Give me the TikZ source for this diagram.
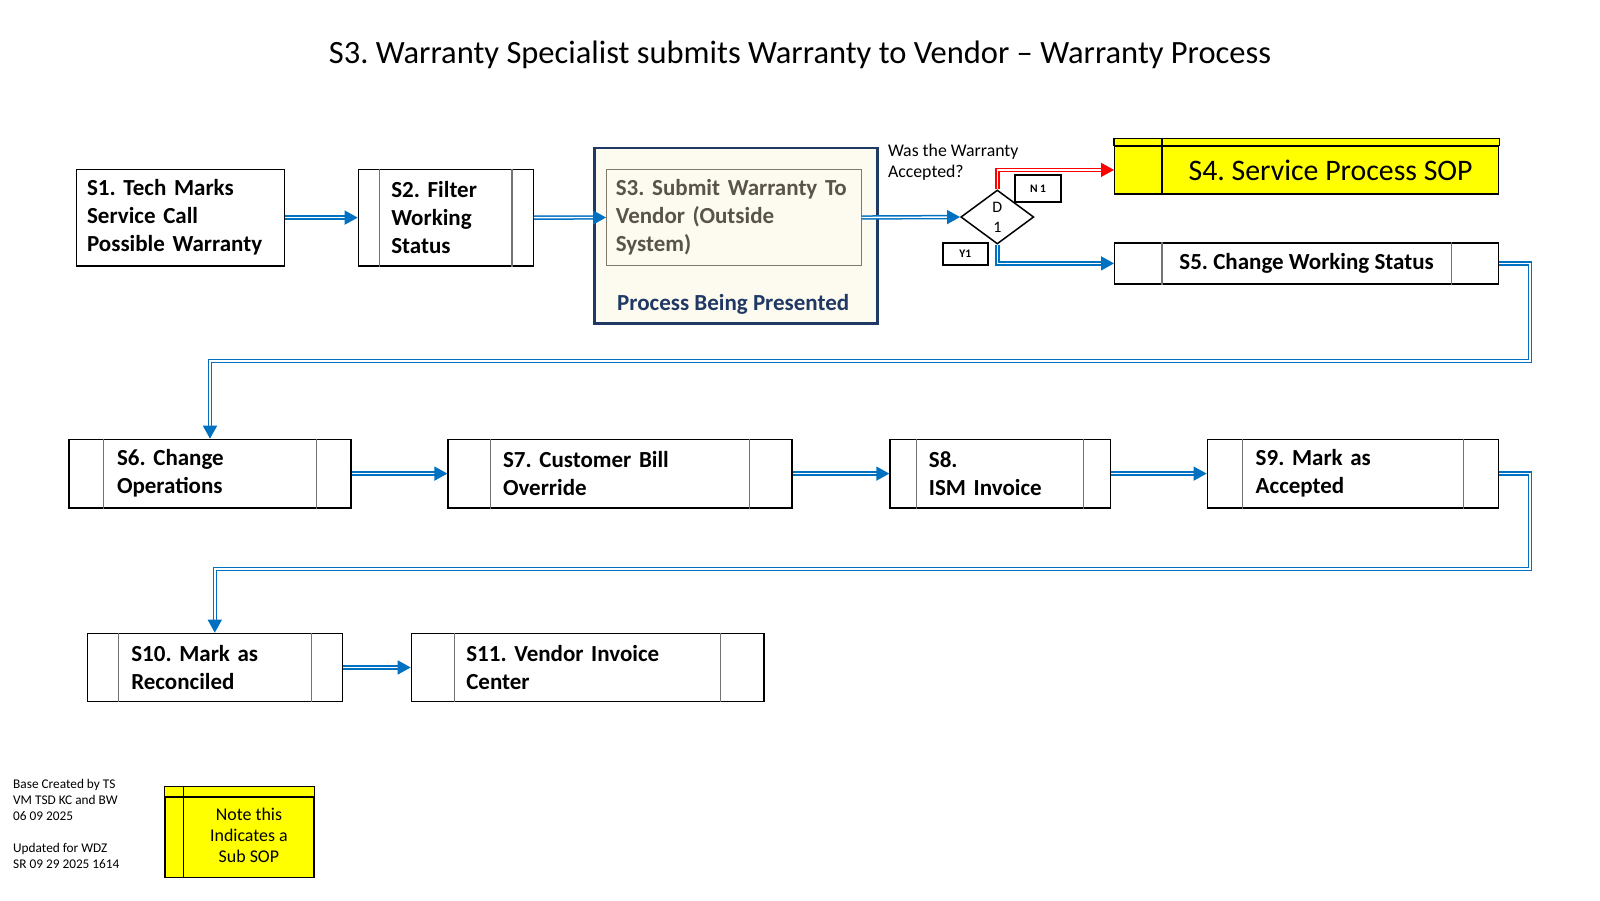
\documentclass[tikz,border=0pt]{standalone}
\usepackage{fontspec}
\setmainfont{Carlito}
\frenchspacing
\usetikzlibrary{arrows.meta,calc,shapes.geometric}
\definecolor{flowblue}{RGB}{0,112,192}
\definecolor{navy}{RGB}{31,56,100}
\definecolor{cream}{RGB}{253,250,240}
\definecolor{drafttext}{RGB}{89,84,72}
\definecolor{draftline}{RGB}{128,120,104}
\definecolor{sopyellow}{RGB}{255,255,0}
\tikzset{
  stepbox/.style={draw, line width=1.2pt, anchor=north west, align=left, inner ysep=0pt,
    font=\bfseries\fontsize{23}{28}\selectfont},
  sopbox/.style={draw, line width=1.2pt, fill=sopyellow, anchor=north west, inner sep=0pt},
  sepline/.style={draw=black!55, line width=1.2pt},
  flow/.style={draw=flowblue, double=white, line width=1.5pt, double distance=1.4pt,
    -{Triangle[length=13pt,width=14pt]}},
  noflow/.style={flow, draw=red},
  tagbox/.style={draw, line width=2pt, anchor=north west, inner sep=0pt,
    font=\bfseries\fontsize{11.5}{13}\selectfont},
}
\begin{document}
\begin{tikzpicture}[x=1pt, y=-1pt]
\useasboundingbox (0,0) rectangle (1600,900);

\node[anchor=base, font=\fontsize{32.5}{38}\selectfont] (title) at (800,63)
  {S3. Warranty Specialist submits Warranty to Vendor -- Warranty Process};

% first row
\node[stepbox, minimum width=208pt, minimum height=96.6pt, inner xsep=11pt, text width=186pt] (s1) at (75.5,168.7)
  {S1. Tech Marks\\Service Call\\Possible Warranty};
\node[stepbox, minimum width=175pt, minimum height=96.6pt, inner xsep=33pt, text width=109pt] (s2) at (357.7,168.7)
  {S2. Filter\\Working\\Status};
\node[draw=navy, line width=2.2pt, fill=cream, anchor=north west, minimum width=283pt, minimum height=175.6pt] (s3frame) at (593.4,146.7) {};
\node[stepbox, draw=draftline, line width=1pt, text=drafttext, minimum width=254.7pt, minimum height=96.6pt, inner xsep=9.35pt, text width=236pt] (s3) at (606,168.7)
  {S3. Submit Warranty To\\Vendor (Outside\\System)};
\node[anchor=base west, inner sep=0pt, text=navy, font=\bfseries\fontsize{23}{26}\selectfont] (presented) at (617,310)
  {Process Being Presented};

% decision
\node[anchor=north west, align=left, inner sep=0pt, font=\fontsize{17.8}{21}\selectfont] (question) at (887.8,143.5)
  {Was the Warranty\\Accepted?};
\node[draw, diamond, line width=1.5pt, minimum width=73pt, minimum height=54pt, inner sep=0pt, aspect=1.35,
  align=center, font=\fontsize{16}{20}\selectfont] (d1) at (997.3,217) {D\\1};
\node[tagbox, minimum width=46pt, minimum height=27.3pt] (n1) at (1014,173.7) {N 1};
\node[tagbox, minimum width=44.7pt, minimum height=22.6pt] (y1) at (942,241.7) {Y1};

\node[sopbox, minimum width=384pt, minimum height=48pt, font=\fontsize{29.8}{34}\selectfont] (s4) at (1114,145.3)
  {\hspace*{48pt}S4. Service Process SOP};
\draw[line width=1.2pt, fill=sopyellow] (s4.north west) rectangle ($(s4.north east)+(0,-7)$);
\draw[line width=1.2pt] ($(s4.north west)+(48,-7)$) -- ($(s4.south west)+(48,0)$);
\node[stepbox, align=center, minimum width=384pt, minimum height=41pt] (s5) at (1114,242.3)
  {S5. Change Working Status};

% second row
\node[stepbox, minimum width=282pt, minimum height=68.6pt, inner xsep=48pt, text width=186pt] (s6) at (68.4,438.7)
  {S6. Change\\Operations};
\node[stepbox, minimum width=344pt, minimum height=68.6pt, inner xsep=55pt, text width=234pt] (s7) at (447.4,438.7)
  {S7. Customer Bill\\Override};
\node[stepbox, minimum width=220.4pt, minimum height=68.6pt, inner xsep=39pt, text width=142.4pt] (s8) at (889.3,438.7)
  {S8.\\ISM Invoice};
\node[stepbox, minimum width=291.4pt, minimum height=68.6pt, inner xsep=48.5pt, text width=194.4pt] (s9) at (1206.6,438.7)
  {S9. Mark as\\Accepted};

% third row
\node[stepbox, minimum width=255pt, minimum height=68.3pt, inner xsep=44pt, text width=167pt] (s10) at (86.7,632.7)
  {S10. Mark as\\Reconciled};
\node[stepbox, minimum width=352.6pt, minimum height=68.3pt, inner xsep=55pt, text width=242.6pt] (s11) at (410.7,632.7)
  {S11. Vendor Invoice\\Center};

\foreach \n/\w in {s2/22, s5/48, s6/35, s7/43, s8/27.5, s9/36, s10/31.5, s11/44} {
  \draw[sepline] ($(\n.north west)+(\w,0)$) -- ($(\n.south west)+(\w,0)$);
  \draw[sepline] ($(\n.north east)+(-\w,0)$) -- ($(\n.south east)+(-\w,0)$);
}

% connectors
\coordinate (turn1) at (1530,361);
\coordinate (turn2) at (1530,569);
\draw[flow] (s1.east) -- (s2.west);
\draw[flow] (s2.east) -- (s3.west);
\draw[flow] (s3.east) -- (d1.west);
\draw[noflow] (d1.north) |- (s4.west);
\draw[flow] (d1.south) |- (s5.west);
\draw[flow] (s5.east) -| (turn1) -| (s6.north);
\draw[flow] (s6.east) -- (s7.west);
\draw[flow] (s7.east) -- (s8.west);
\draw[flow] (s8.east) -- (s9.west);
\draw[flow] (s9.east) -| (turn2) -| (s10.north);
\draw[flow] (s10.east) -- (s11.west);

% footer
\node[anchor=north west, align=left, inner sep=0pt, font=\fontsize{13.3}{16}\selectfont] (credits) at (13,779.5)
  {Base Created by TS\\VM TSD KC and BW\\06 09 2025\\[16pt]Updated for WDZ\\SR 09 29 2025 1614};
\node[sopbox, minimum width=149pt, minimum height=80.3pt, font=\fontsize{17.9}{21}\selectfont] (note) at (164.3,796.7)
  {\hspace*{19pt}\begin{tabular}{@{}c@{}}Note this\\Indicates a\\Sub SOP\end{tabular}};
\draw[line width=1.2pt, fill=sopyellow] (note.north west) rectangle ($(note.north east)+(0,-10.4)$);
\draw[line width=1.2pt] ($(note.north west)+(19,-10.4)$) -- ($(note.south west)+(19,0)$);
\end{tikzpicture}
\end{document}
